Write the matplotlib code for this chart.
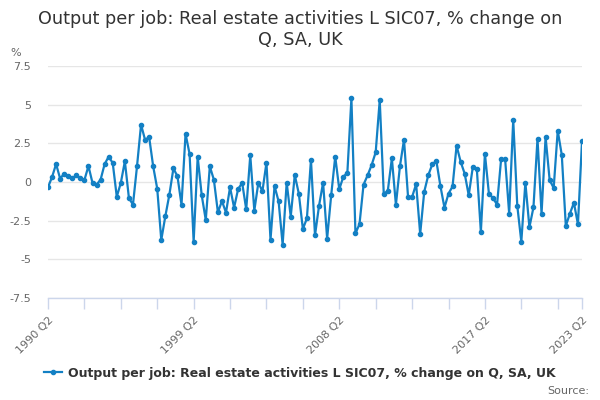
import matplotlib
matplotlib.use("Agg")
import matplotlib.pyplot as plt

# quarterly % change, 1990 Q2 .. 2023 Q2
values = [
    -0.34, 0.32, 1.16, 0.22, 0.54, 0.37, 0.24, 0.43, 0.26, 0.13,
    1.03, -0.06, -0.17, 0.15, 1.16, 1.64, 1.23, -0.95, -0.06, 1.34,
    -1.03, -1.47, 1.01, 3.71, 2.72, 2.91, 1.01, -0.43, -3.75, -2.22,
    -0.82, 0.88, 0.37, -1.47, 3.12, 1.81, -3.86, 1.62, -0.86, -2.46,
    1.01, 0.15, -1.96, -1.23, -1.98, -0.34, -1.66, -0.45, -0.06, -1.77,
    1.72, -1.85, -0.04, -0.60, 1.25, -3.73, -0.26, -1.25, -4.05, -0.04,
    -2.24, 0.45, -0.75, -3.04, -2.35, 1.44, -3.45, -1.53, -0.04, -3.66,
    -0.86, 1.64, -0.47, 0.34, 0.60, 5.41, -3.32, -2.72, -0.17, 0.43,
    1.10, 1.92, 5.30, -0.78, -0.56, 1.53, -1.47, 1.03, 2.74, -0.97,
    -0.97, -0.13, -3.36, -0.63, 0.44, 1.15, 1.36, -0.26, -1.66, -0.75,
    -0.29, 2.35, 1.31, 0.54, -0.86, 0.95, 0.86, -3.23, 1.83, -0.78,
    -1.03, -1.47, 1.47, 1.47, -2.05, 4.01, -1.53, -3.86, -0.04, -2.93,
    -1.64, 2.80, -2.05, 2.91, 0.13, -0.39, 3.32, 1.75, -2.84, -2.05,
    -1.34, -2.74, 2.63,
]

quarters = []
year, q = 1990, 2
for _ in values:
    quarters.append(f"{year} Q{q}")
    q += 1
    if q > 4:
        q = 1
        year += 1

labelled = ["1990 Q2", "1999 Q2", "2008 Q2", "2017 Q2", "2023 Q2"]
y_ticks = [-7.5, -5, -2.5, 0, 2.5, 5, 7.5]
y_labels = ["-7.5", "-5", "-2.5", "0", "2.5", "5", "7.5"]

line_col = "#1380c4"
axis_col = "#ccd6eb"

fig = plt.figure(figsize=(6, 4), dpi=100)
ax = fig.add_axes([0.08, 0.255, 0.89, 0.58])

x = list(range(len(values)))
ax.plot(x, values, color=line_col, lw=1.6, marker="o", ms=3, zorder=3,
        label="Output per job: Real estate activities L SIC07, % change on Q, SA, UK")

ax.set_xlim(0, len(values) - 1)
ax.set_ylim(-7.5, 7.5)

# ticks every 9 quarters, plus the last quarter
tick_pos = list(range(0, len(values) - 1, 9)) + [len(values) - 1]
ax.set_xticks(tick_pos)
ax.set_xticklabels([quarters[i] if quarters[i] in labelled else "" for i in tick_pos],
                   rotation=45, ha="right", rotation_mode="anchor",
                   fontsize=8, color="#666666")
ax.tick_params(axis="x", length=8, width=1, color=axis_col, pad=4)

ax.set_yticks(y_ticks)
ax.set_yticklabels(y_labels, fontsize=8, color="#666666")
ax.tick_params(axis="y", length=0, pad=12)
ax.grid(axis="y", color="#e6e6e6", lw=1)
ax.set_axisbelow(True)

for side in ["top", "right", "left"]:
    ax.spines[side].set_visible(False)
ax.spines["bottom"].set_color(axis_col)
ax.spines["bottom"].set_linewidth(1)

fig.text(0.5, 0.927, "Output per job: Real estate activities L SIC07, % change on\nQ, SA, UK",
         ha="center", va="center", fontsize=12.7, color="#333333", linespacing=1.22)
fig.text(0.018, 0.868, "%", fontsize=8, color="#666666", va="center")

leg = fig.legend(loc="center", bbox_to_anchor=(0.5, 0.067), frameon=False,
                 prop={"size": 9, "weight": "bold"}, handlelength=1.4,
                 handletextpad=0.5)
for t in leg.get_texts():
    t.set_color("#333333")

fig.text(0.982, 0.022, "Source:", ha="right", va="center", fontsize=8, color="#666666")

fig.savefig("out.png", dpi=100)
